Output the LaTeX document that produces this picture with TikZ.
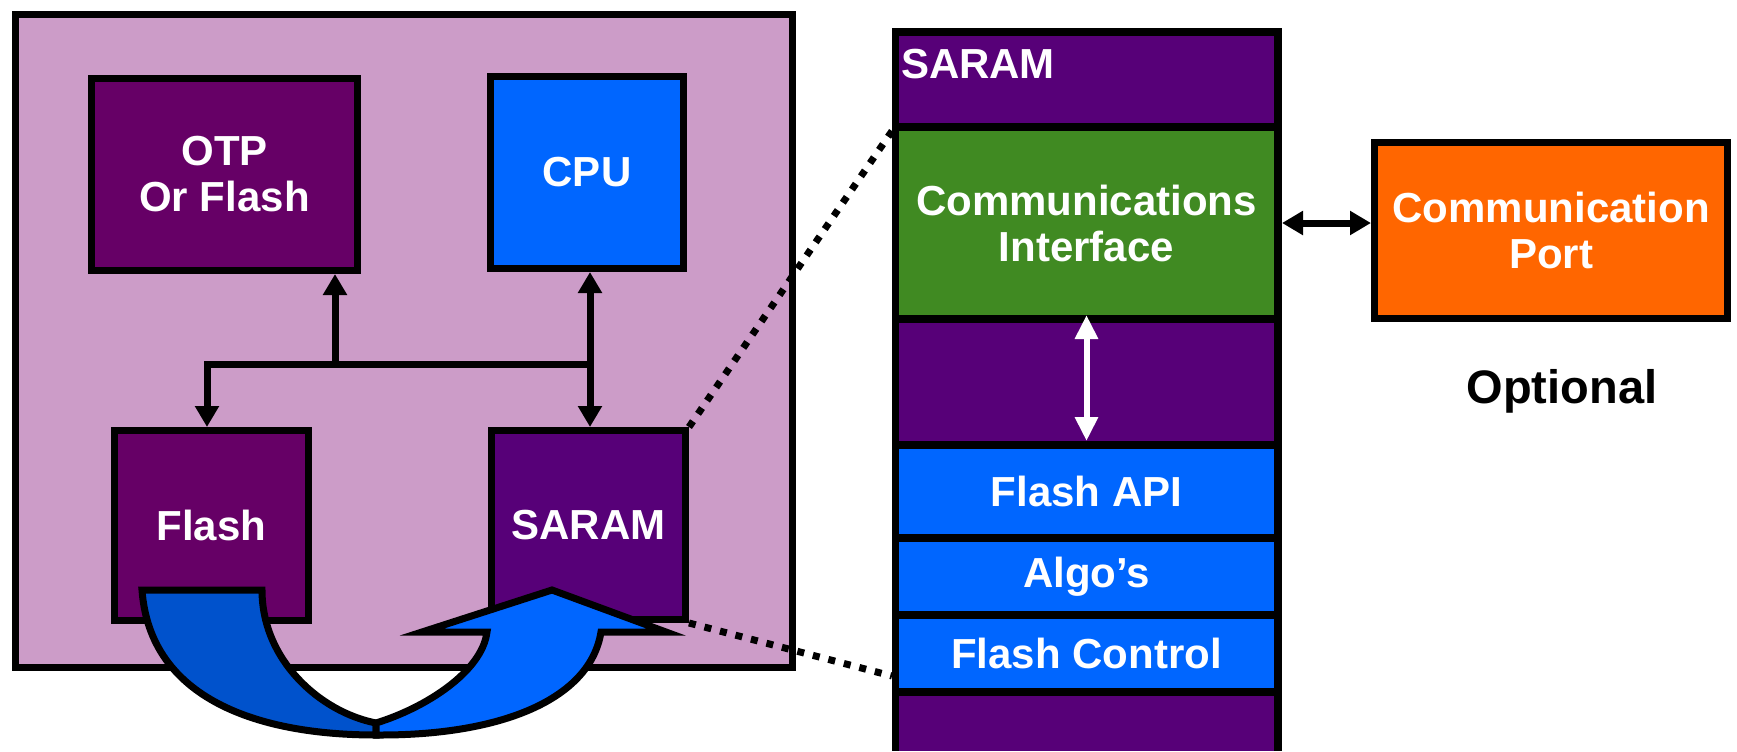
\documentclass[tikz,border=0pt]{standalone}
\usepackage{fontspec}
\setmainfont{Liberation Sans}
\usetikzlibrary{arrows.meta}
\definecolor{bgpink}{RGB}{204,156,200}
\definecolor{plum}{RGB}{102,0,102}
\definecolor{ramviolet}{RGB}{87,0,120}
\definecolor{cpublue}{RGB}{0,102,255}
\definecolor{ifgreen}{RGB}{64,138,34}
\definecolor{portorange}{RGB}{255,102,0}
\definecolor{backblue}{RGB}{0,82,204}
\begin{document}
\begin{tikzpicture}[x=0.5pt,y=-0.5pt,
  wh/.style 2 args={minimum width=#1*0.5pt, minimum height=#2*0.5pt},
  txt/.style={text=white, font=\fontsize{21}{23}\selectfont\bfseries, align=center},
  box/.style={draw=black, line width=3.5pt, inner sep=0pt, txt},
  band/.style={inner sep=0pt, outer sep=0pt, txt},
  link/.style={line width=3.5pt, -{Triangle[width=11.5pt,length=10.5pt]}},
  dlink/.style={line width=3.5pt, {Triangle[width=11.5pt,length=10.5pt]}-{Triangle[width=11.5pt,length=10.5pt]}},
  zoomline/.style={line width=3.5pt, dash pattern=on 3.5pt off 4.5pt},
  ribbon/.style={draw=black, line width=3.5pt, line join=miter, miter limit=10}
]
\useasboundingbox (0,0) rectangle (1737,751);

% chip with its blocks
\node[box, fill=bgpink, wh={777}{653}] (chip) at (404,341) {};
\node[box, fill=plum, wh={266}{192}] (otp) at (224.5,174.5) {OTP\\Or Flash};
\node[box, fill=cpublue, wh={193}{192}] (cpu) at (587,172.5) {CPU};
\node[box, fill=plum, wh={194}{190}] (flash) at (211.5,525.5) {Flash};
\node[box, fill=ramviolet, wh={194}{189}] (sram) at (588.5,525) {SARAM};

% internal bus
\coordinate (busR) at (590,364);
\coordinate (busL) at (207,364);
\coordinate (busO) at (335,364);
\draw[link] (busR) -- (busL) -- (busL |- flash.north);
\draw[link] (busO) -- (busO |- otp.south);
\draw[dlink] (busR |- cpu.south) -- (busR |- sram.north);

% copy from Flash into SARAM
\path[ribbon, fill=backblue]
  (142,590) -- (262,590) .. controls (262,660) and (320,712) .. (376,723)
  -- (376,735) .. controls (260,735) and (150,700) .. (142,590) -- cycle;
\path[ribbon, fill=cpublue]
  (376,723) .. controls (425,708) and (482,672) .. (487,632)
  -- (422,632) -- (552,590) -- (666,632) -- (601,632)
  .. controls (590,700) and (500,735) .. (381,735) -- (376,735) -- cycle;

% SARAM contents
\node[fill=black, inner sep=0pt, outer sep=0pt, wh={390}{723}, anchor=north west] (stack) at (892,28) {};
\node[band, fill=ramviolet, wh={375}{87}] (sTop) at (1086.5,79.5) {};
\node[band, fill=ifgreen, wh={375}{184}] (sComm) at (1086.5,223) {Communications\\Interface};
\node[band, fill=ramviolet, wh={375}{118}] (sGap) at (1086.5,382) {};
\node[band, fill=cpublue, wh={375}{85}] (sApi) at (1086.5,491.5) {Flash API};
\node[band, fill=cpublue, wh={375}{69}] (sAlgo) at (1086.5,576.5) {Algo’s};
\node[band, fill=cpublue, wh={375}{69}] (sCtrl) at (1086.5,653.5) {Flash Control};
\node[band, fill=ramviolet, wh={375}{55}] (sBot) at (1086.5,723.5) {};
\node[band, anchor=base west] (sLabel) at (901,78) {SARAM};

\draw[white, line width=3pt, {Triangle[width=11pt,length=12pt]}-{Triangle[width=11pt,length=12pt]}]
  (sComm.south) -- (sGap.south);

% zoom lines from the SARAM block
\coordinate (zBot) at (892,676);
\draw[zoomline] (sram.north east) -- (stack.west |- sComm.north);
\draw[zoomline] (sram.south east) -- (zBot);

% optional port
\node[box, fill=portorange, wh={353}{176}] (port) at (1551,230.5) {Communication\\Port};
\draw[dlink] (stack.east |- sComm) -- (port.west |- sComm);
\node[font=\fontsize{23.5}{26}\selectfont\bfseries, inner sep=0pt, anchor=base] (opt) at (1562,403) {Optional};
\end{tikzpicture}
\end{document}
